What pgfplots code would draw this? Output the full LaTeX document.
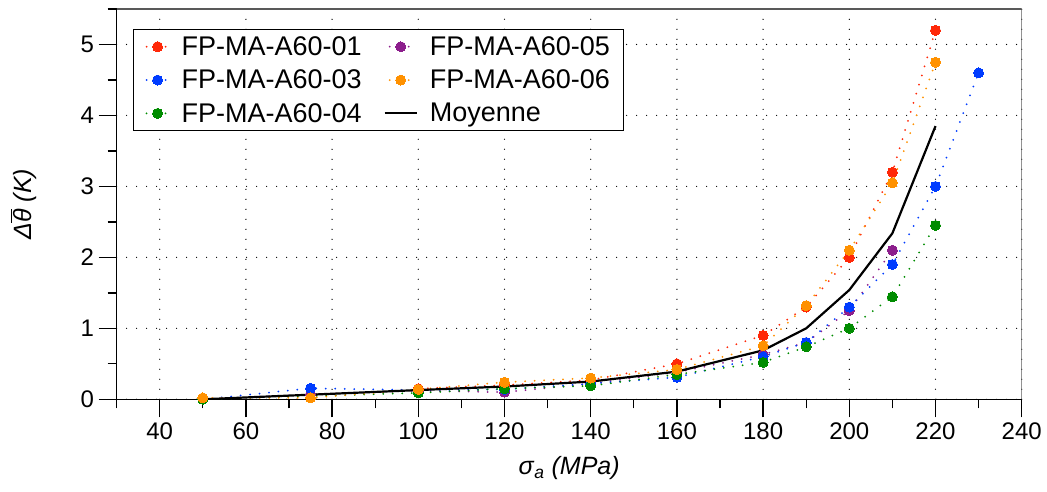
\documentclass[border=0pt]{standalone}
\usepackage{pgfplots}
\pgfplotsset{compat=1.18}
\usepackage{fontspec}
\setmainfont{Liberation Sans}
\definecolor{cred}{RGB}{255,40,8}
\definecolor{cblue}{RGB}{0,60,255}
\definecolor{cgreen}{RGB}{0,140,0}
\definecolor{cpurple}{RGB}{140,30,140}
\definecolor{corange}{RGB}{255,145,0}
\pgfplotsset{
  ser/.style={#1, line width=2pt, line cap=round, dash pattern=on 0pt off 9.5pt,
    mark=*, mark size=5pt, mark options={solid, fill=#1, draw=#1, line width=0pt}},
}
\begin{document}
\begin{tikzpicture}
\begin{axis}[
  at={(0pt,0pt)}, anchor=south west,
  scale only axis, width=905.1pt, height=390.3pt,
  xmin=30, xmax=240, ymin=0, ymax=5.5,
  axis x line*=bottom, axis y line*=left,
  axis line style={-, black, line width=1.3pt},
  xtick={40,60,...,240}, minor xtick={30,50,...,230},
  ytick={0,1,...,5}, minor ytick={0.5,1.5,...,5.5},
  tick align=outside,
  major tick length=18pt, minor tick length=9pt,
  every tick/.style={black, line width=1.3pt},
  /pgf/number format/assume math mode=true,
  tick label style={font=\fontsize{24}{28}\selectfont},
  xticklabel style={yshift=-2pt},
  yticklabel style={xshift=-1pt},
  grid=major,
  major grid style={black, line width=1.3pt, line cap=round, dash pattern=on 0pt off 10pt},
  xlabel={\textit{σ}\textsubscript{\textit{a}} \textit{(MPa)}},
  ylabel={\textit{Δ}$\overline{\hbox{\itshape θ}}$ \textit{(K)}},
  label style={font=\fontsize{25}{30}\selectfont},
  xlabel style={at={(0.5,0)}, anchor=center, yshift=-69pt},
  ylabel style={at={(0,0.5)}, anchor=center, rotate=0, yshift=93pt},
  legend columns=2,
  legend cell align=left,
  legend style={at={(rel axis cs:0.0181,0.949)}, anchor=north west,
    draw=black, line width=1.2pt, fill=white,
    font=\fontsize{27}{31}\selectfont,
    inner xsep=12pt, inner ysep=5pt,
    row sep=9pt,
    /tikz/every odd column/.append style={column sep=10pt},
    /tikz/every even column/.append style={column sep=20pt}},
  legend image code/.code={
    \draw[#1, mark repeat=2, mark phase=2] plot coordinates {(0pt,0pt) (11pt,0pt) (22pt,0pt)};
  },
]
\addplot[ser=cred, forget plot]
  coordinates {(100,0.15)(120,0.20)(140,0.27)(160,0.50)(180,0.90)(190,1.30)(200,2.00)(210,3.20)(220,5.20)};
\addplot[ser=cpurple, forget plot]
  coordinates {(50,0)(75,0.07)(100,0.12)(120,0.10)(140,0.22)(160,0.38)(180,0.63)(190,0.80)(200,1.25)(210,2.10)};
\addplot[ser=cblue, forget plot]
  coordinates {(50,0)(75,0.155)(100,0.13)(120,0.14)(140,0.22)(160,0.31)(180,0.60)(190,0.80)(200,1.30)(210,1.90)(220,3.00)(230,4.60)};
\addplot[ser=cgreen, forget plot]
  coordinates {(50,0)(100,0.09)(120,0.15)(140,0.19)(160,0.35)(180,0.52)(190,0.74)(200,1.00)(210,1.445)(220,2.45)};
\addplot[ser=corange, forget plot]
  coordinates {(50,0.02)(75,0.02)(100,0.14)(120,0.24)(140,0.30)(160,0.42)(180,0.755)(190,1.32)(200,2.10)(210,3.05)(220,4.75)};
\addplot[black, line width=2.2pt, no marks, forget plot]
  coordinates {(50,0)(100,0.13)(120,0.18)(140,0.25)(160,0.39)(180,0.69)(190,1.0)(200,1.54)(210,2.34)(220,3.85)};
\addlegendimage{ser=cred}
\addlegendentry{FP-MA-A60-01}
\addlegendimage{ser=cpurple}
\addlegendentry{FP-MA-A60-05}
\addlegendimage{ser=cblue}
\addlegendentry{FP-MA-A60-03}
\addlegendimage{ser=corange}
\addlegendentry{FP-MA-A60-06}
\addlegendimage{ser=cgreen}
\addlegendentry{FP-MA-A60-04}
\addlegendimage{black, line width=2.2pt, legend image code/.code={\draw[black, line width=2.2pt] (-5pt,0pt) -- (27pt,0pt);}}
\addlegendentry{Moyenne}
\draw[black!65, line width=2pt] (rel axis cs:0,1) -- (rel axis cs:1,1) -- (rel axis cs:1,0);
\end{axis}
\pgfresetboundingbox
\path[use as bounding box] (-116.6pt,-92.7pt) rectangle (930.4pt,399.3pt);
\end{tikzpicture}
\end{document}
